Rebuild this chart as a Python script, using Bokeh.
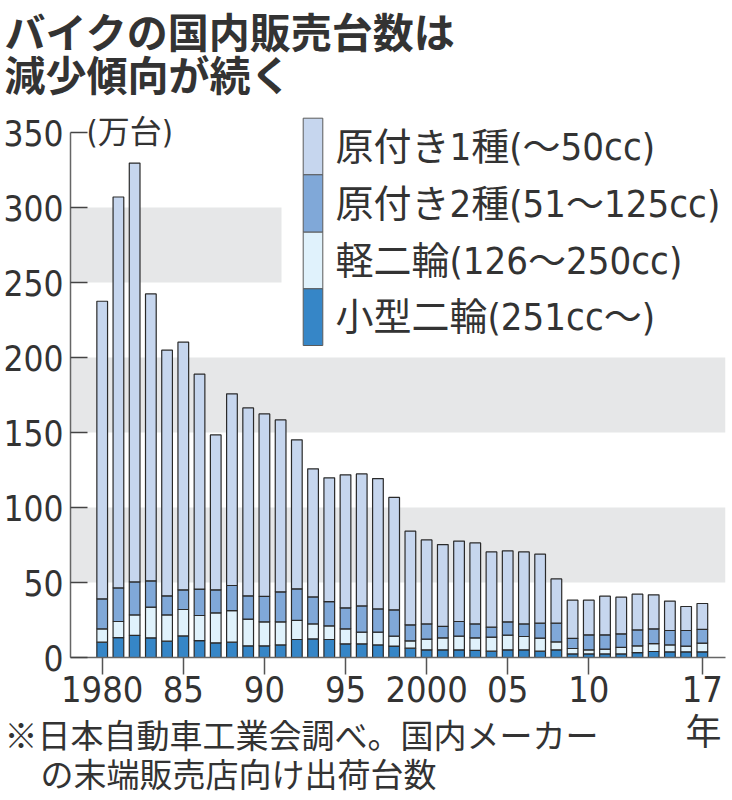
from bokeh.plotting import figure
from bokeh.layouts import column
from bokeh.models import Range1d, LinearAxis, FixedTicker, ColumnDataSource
from bokeh.embed import file_html
from bokeh.resources import INLINE
from bokeh.core.properties import value

# ---------------- data (万台) ----------------
years = list(range(1980, 2018))
kogata = [10.2, 13.3, 14.7, 13.1, 10.9, 14.4, 11.3, 9.8, 10.2, 7.8,
          7.8, 8.4, 12.0, 12.4, 12.0, 9.1, 9.1, 8.4, 7.6, 6.2,
          5.1, 5.1, 5.1, 4.7, 4.2, 5.1, 5.1, 4.2, 5.1, 2.4,
          2.4, 2.4, 2.4, 3.3, 4.0, 3.8, 3.8, 3.8]
kei = [8.9, 10.7, 13.7, 20.5, 17.5, 17.6, 16.7, 20.0, 21.1, 17.8,
       16.0, 15.4, 12.7, 10.0, 9.1, 10.0, 7.8, 8.5, 6.6, 4.9,
       7.1, 8.0, 9.1, 8.4, 9.4, 9.8, 8.9, 8.7, 5.3, 3.6,
       2.7, 3.2, 4.3, 4.5, 5.3, 4.6, 3.8, 5.8]
gen2 = [20.0, 22.4, 22.0, 17.5, 12.7, 13.1, 17.6, 15.3, 16.7, 15.5,
        16.9, 20.0, 21.1, 18.0, 16.2, 14.0, 17.5, 15.5, 17.6, 10.7,
        10.2, 7.6, 9.8, 9.3, 6.6, 8.9, 8.4, 10.0, 12.5, 6.7,
        10.0, 9.5, 9.1, 10.6, 9.8, 9.6, 10.4, 9.1]
gen1 = [198.4, 260.6, 279.2, 191.3, 163.8, 165.1, 143.3, 103.3, 127.8, 125.3,
        121.7, 114.6, 99.3, 85.4, 82.5, 88.7, 88.0, 86.9, 74.9, 62.4,
        56.0, 54.6, 53.6, 54.0, 50.2, 47.3, 48.0, 46.0, 29.5, 25.5,
        23.1, 25.8, 24.4, 23.8, 22.7, 19.6, 16.0, 17.3]

series_keys = ["gen1", "gen2", "kei", "kogata"]
series_names = ["原付き1種(〜50cc)", "原付き2種(51〜125cc)",
                "軽二輪(126〜250cc)", "小型二輪(251cc〜)"]
y_ticks = [0, 50, 100, 150, 200, 250, 300, 350]
x_ticks = [1980, 1985, 1990, 1995, 2000, 2005, 2010, 2017]
x_tick_labels = ["1980", "85", "90", "95", "2000", "05", "10", "17"]
band_ranges = [(50, 100), (150, 200), (250, 300)]

title_lines = ["バイクの国内販売台数は", "減少傾向が続く"]
unit_text = "(万台)"
year_text = "年"
note_lines = ["※日本自動車工業会調べ。国内メーカー", "の末端販売店向け出荷台数"]

# ---------------- styles ----------------
colors = {"gen1": "#c6d6ee", "gen2": "#80a8d8", "kei": "#e0f2fc", "kogata": "#3686c7"}
TEXT = "#333333"
NUM_FONT = "'DejaVu Sans Condensed', 'Liberation Sans Narrow', Roboto, sans-serif"
CJK_FONT = "'Noto Sans CJK JP', sans-serif"
MIX_FONT = "'DejaVu Sans Condensed', 'Liberation Sans Narrow', 'Noto Sans CJK JP', sans-serif"

W = 732
# page-pixel geometry of the reference
PX0, PPY = 101.7, 16.22      # x of 1980, px per year
PY0, PPV = 657.0, 1.5        # y of value 0, px per unit


def dx(px):
    return 1980 + (px - PX0) / PPY


def dy(py):
    return (PY0 - py) / PPV


def blank(fig, transparent=False):
    fig.grid.visible = False
    fig.outline_line_color = None
    fig.background_fill_color = None if transparent else "white"
    fig.border_fill_color = None if transparent else "white"
    if "frame_align" in fig.properties():
        fig.frame_align = False
    return fig


# ---------------- title figure (page y 0..108) ----------------
T_BOT = 108
tf = blank(figure(width=W, height=T_BOT, output_backend="svg", toolbar_location=None,
                  x_range=Range1d(0, W), y_range=Range1d(T_BOT, 0),
                  min_border=0, x_axis_location=None, y_axis_location=None))
tf.text(x=[4, 4], y=[29, 72], text=title_lines,
        text_font=value(CJK_FONT), text_font_size="41px", text_font_style="bold",
        text_color=TEXT, text_baseline="middle", text_align="left")

# ---------------- chart figure (page y 108..727) ----------------
C_TOP, C_BOT = T_BOT, 727
FRAME_LEFT, FRAME_RIGHT = 70, 725
p = blank(figure(width=W, height=C_BOT - C_TOP, output_backend="svg", toolbar_location=None,
                 x_range=Range1d(dx(FRAME_LEFT), dx(FRAME_RIGHT)),
                 y_range=Range1d(0, dy(C_TOP)),
                 min_border_left=FRAME_LEFT, min_border_right=W - FRAME_RIGHT,
                 min_border_top=0, min_border_bottom=int(C_BOT - PY0),
                 x_axis_location=None, y_axis_location=None))

for lo, hi in band_ranges:
    right = dx(281) if lo == 250 else dx(FRAME_RIGHT)
    p.quad(left=dx(FRAME_LEFT), right=right, bottom=lo, top=hi,
           fill_color="#e6e7e8", line_color=None)

src = ColumnDataSource(dict(year=years, kogata=kogata, kei=kei, gen2=gen2, gen1=gen1))
stack_order = ["kogata", "kei", "gen2", "gen1"]
p.vbar_stack(stack_order, x="year", width=0.66, source=src,
             fill_color=[colors[k] for k in stack_order],
             line_color="#2a2a2a", line_width=1.2)

yax = LinearAxis(ticker=FixedTicker(ticks=y_ticks), bounds=(0, 350))
yax.axis_line_color = "#666666"
yax.axis_line_width = 1.5
yax.major_tick_in = 17
yax.major_tick_out = 0
yax.major_tick_line_color = "#444444"
yax.major_tick_line_width = 1.5
yax.minor_tick_line_color = None
yax.major_label_standoff = 7
yax.major_label_text_font = NUM_FONT
yax.major_label_text_font_size = "35px"
yax.major_label_text_color = TEXT
p.add_layout(yax, "left")

xax = LinearAxis(ticker=FixedTicker(ticks=x_ticks),
                 major_label_overrides={t: l for t, l in zip(x_ticks, x_tick_labels)})
xax.axis_line_color = "#666666"
xax.axis_line_width = 1.5
xax.major_tick_in = 0
xax.major_tick_out = 17
xax.major_tick_line_color = "#555555"
xax.major_tick_line_width = 1.5
xax.minor_tick_line_color = None
xax.major_label_standoff = 1
xax.major_label_text_font = NUM_FONT
xax.major_label_text_font_size = "36px"
xax.major_label_text_color = TEXT
p.add_layout(xax, "below")

# custom legend
sw_left, sw_right = dx(302.7), dx(322.3)
sw_edges = [117.7, 174.3, 231.7, 288.3, 345.0]
for i, k in enumerate(series_keys):
    p.quad(left=sw_left, right=sw_right, bottom=dy(sw_edges[i + 1]), top=dy(sw_edges[i]),
           fill_color=colors[k], line_color="#5a5a5a", line_width=1)
leg_y = [dy((sw_edges[i] + sw_edges[i + 1]) / 2) for i in range(4)]
p.text(x=[dx(335)] * 4, y=leg_y, text=series_names,
       text_font=value(MIX_FONT), text_font_size="38px", text_color=TEXT,
       text_baseline="middle", text_align="left")

p.text(x=[dx(86)], y=[dy(131)], text=[unit_text], text_font=value(MIX_FONT),
       text_font_size="32px", text_color=TEXT, text_baseline="middle", text_align="left")

# ---------------- note figure (page y 697..800, overlapping chart bottom) ----------------
OVERLAP = 30
N_TOP, N_BOT = C_BOT - OVERLAP, 800
nf = blank(figure(width=W, height=N_BOT - N_TOP, output_backend="svg", toolbar_location=None,
                  x_range=Range1d(0, W), y_range=Range1d(N_BOT - N_TOP, 0),
                  min_border=0, x_axis_location=None, y_axis_location=None),
           transparent=True)
nf.margin = (-OVERLAP, 0, 0, 0)
nf.text(x=[703], y=[728 - N_TOP], text=[year_text], text_font=value(CJK_FONT),
        text_font_size="36px", text_color=TEXT, text_baseline="middle", text_align="center")
nf.text(x=[4, 40], y=[733 - N_TOP, 772 - N_TOP], text=note_lines,
        text_font=value(CJK_FONT), text_font_size="33px", text_color=TEXT,
        text_baseline="middle", text_align="left")

layout = column(tf, p, nf, spacing=0)
open("out.html", "w").write(file_html(layout, INLINE))
